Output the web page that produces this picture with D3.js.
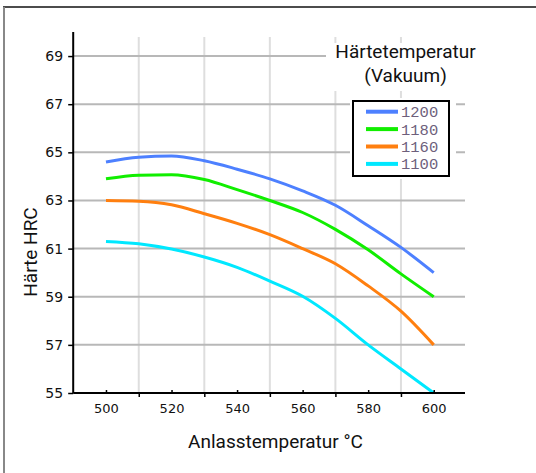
<!DOCTYPE html>
<html><head><meta charset="utf-8">
<script src="https://cdn.jsdelivr.net/npm/d3@7"></script>
<style>html,body{margin:0;padding:0;background:#fff;}svg{display:block;}</style>
</head><body>
<script>
const temps = [500, 510, 520, 530, 540, 550, 560, 570, 580, 590, 600];
const h1200 = [64.6, 64.8, 64.85, 64.65, 64.3, 63.9, 63.4, 62.8, 61.95, 61.05, 60.0];
const h1180 = [63.9, 64.05, 64.07, 63.87, 63.45, 63.0, 62.5, 61.8, 60.95, 59.95, 59.0];
const h1160 = [63.0, 62.97, 62.82, 62.45, 62.05, 61.58, 61.0, 60.37, 59.45, 58.4, 57.0];
const h1100 = [61.3, 61.2, 60.98, 60.65, 60.22, 59.65, 59.02, 58.1, 57.0, 56.0, 55.0];
const seriesNames = ["1200", "1180", "1160", "1100"];
const seriesColors = ["#4d80ff", "#11ee00", "#ff7f0f", "#00e8ff"];
const yTicks = [55, 57, 59, 61, 63, 65, 67, 69];
const xLabelTicks = [500, 520, 540, 560, 580, 600];
const xMinorTicks = [510, 530, 550, 570, 590];
const titleLines = ["Härtetemperatur", "(Vakuum)"];
const xTitle = "Anlasstemperatur °C";
const yTitle = "Härte HRC";

const series = [h1200, h1180, h1160, h1100];
const W = 536, H = 473;
const svg = d3.select("body").append("svg").attr("width", W).attr("height", H);
svg.append("rect").attr("width", W).attr("height", H).attr("fill", "#fff");

// frame
svg.append("line").attr("x1", 3).attr("x2", W).attr("y1", 7).attr("y2", 7).attr("stroke", "#111").attr("stroke-width", 1.5);
svg.append("line").attr("x1", 4).attr("x2", 4).attr("y1", 7).attr("y2", H).attr("stroke", "#888").attr("stroke-width", 2);

const x = d3.scaleLinear().domain([490, 610]).range([73.2, 466.5]);
const y = d3.scaleLinear().domain([55, 70]).range([393, 32]);

// grid
const g = svg.append("g");
g.selectAll(".vg").data(xMinorTicks).join("line")
  .attr("x1", d => x(d)).attr("x2", d => x(d)).attr("y1", 37).attr("y2", y(55))
  .attr("stroke", "#dedede").attr("stroke-width", 2);
g.selectAll(".hg").data(yTicks.filter(d => d > 55)).join("line")
  .attr("x1", x(490)).attr("x2", 465).attr("y1", d => y(d)).attr("y2", d => y(d))
  .attr("stroke", "#b8b8b8").attr("stroke-width", 2);

// title background
svg.append("rect").attr("x", 326).attr("y", 43).attr("width", 145).attr("height", 48).attr("fill", "#fff");

// lines
const line = d3.line().x((d, i) => x(temps[i])).y(d => y(d)).curve(d3.curveMonotoneX);
series.forEach((s, k) => {
  svg.append("path").attr("d", line(s)).attr("fill", "none")
    .attr("stroke", seriesColors[k]).attr("stroke-width", 3).attr("stroke-linejoin", "round");
});

// axes
const yAxis = svg.append("g").attr("transform", `translate(${x(490)},0)`)
  .call(d3.axisLeft(y).tickValues(yTicks).tickSize(5).tickPadding(5).tickFormat(d3.format("d")));
yAxis.select(".domain").attr("stroke", "#000").attr("stroke-width", 2).attr("d", `M0,${y(70)}V${y(55)}`);
yAxis.selectAll(".tick line").attr("stroke", "#000").attr("stroke-width", 1.5);
yAxis.selectAll("text").attr("font-family", "DejaVu Sans").attr("font-size", 14).attr("fill", "#111");

const xAxis = svg.append("g").attr("transform", `translate(0,${y(55)})`)
  .call(d3.axisBottom(x).tickValues(xLabelTicks).tickSize(-3).tickPadding(11).tickFormat(d3.format("d")));
xAxis.select(".domain").attr("stroke", "#000").attr("stroke-width", 2).attr("d", `M${x(490)},0H465`);
xAxis.selectAll(".tick line").attr("stroke", "#000").attr("stroke-width", 1.5);
xAxis.selectAll("text").attr("font-family", "DejaVu Sans").attr("font-size", 13).attr("fill", "#111");
const xMinor = svg.append("g").attr("transform", `translate(0,${y(55)})`)
  .call(d3.axisBottom(x).tickValues(xMinorTicks).tickSize(4).tickFormat(""));
xMinor.select(".domain").remove();
xMinor.selectAll(".tick line").attr("stroke", "#000").attr("stroke-width", 1.5);

// axis titles
const tfont = "Roboto";
svg.append("text").attr("x", 275.5).attr("y", 448).attr("text-anchor", "middle")
  .attr("font-family", tfont).attr("font-size", 19).attr("fill", "#111").text(xTitle);
svg.append("text").attr("transform", "translate(37,252) rotate(-90)").attr("text-anchor", "middle")
  .attr("font-family", tfont).attr("font-size", 19).attr("fill", "#111").text(yTitle);

// chart legend title
svg.selectAll(".tt").data(titleLines).join("text")
  .attr("x", 405.5).attr("y", (d, i) => 58 + i * 24).attr("text-anchor", "middle")
  .attr("font-family", tfont).attr("font-size", 19).attr("fill", "#111").text(d => d);

// legend
svg.append("rect").attr("x", 350).attr("y", 98).attr("width", 106).attr("height", 81).attr("fill", "#fff");
svg.append("rect").attr("x", 353).attr("y", 101).attr("width", 96).attr("height", 75)
  .attr("fill", "#fff").attr("stroke", "#000").attr("stroke-width", 2);
const leg = svg.selectAll(".leg").data(seriesNames).join("g")
  .attr("transform", (d, i) => `translate(0,${111.7 + i * 17.4})`);
leg.append("line").attr("x1", 366).attr("x2", 398).attr("y1", 0).attr("y2", 0)
  .attr("stroke", (d, i) => seriesColors[i]).attr("stroke-width", 4);
leg.append("text").attr("x", 401).attr("y", 5.5).attr("font-family", "Liberation Mono")
  .attr("font-size", 15.5).attr("fill", "#6e5f7c").text(d => d);
</script>
</body></html>
